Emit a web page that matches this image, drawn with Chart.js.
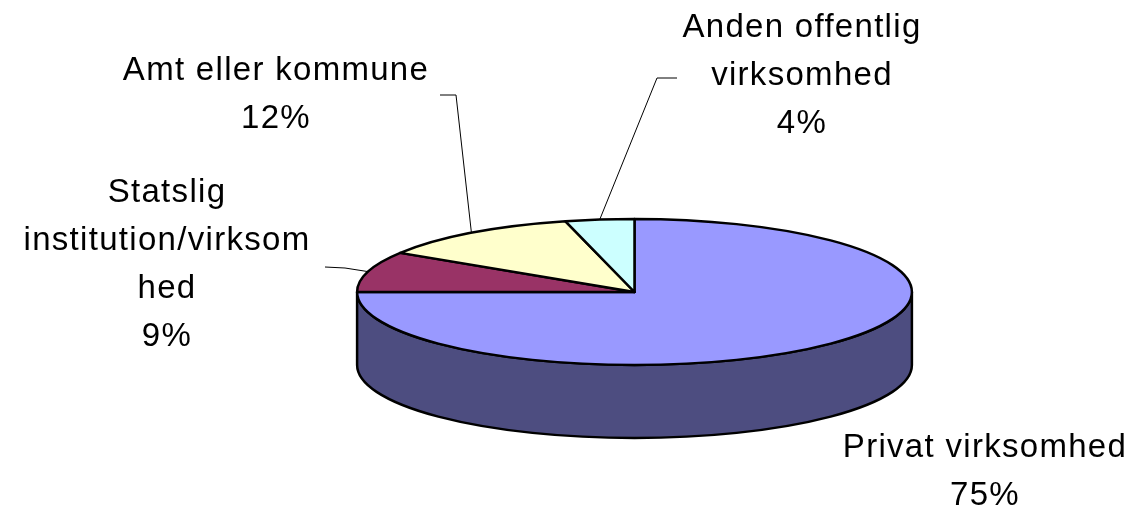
<!DOCTYPE html>
<html>
<head>
<meta charset="utf-8">
<script src="https://cdn.jsdelivr.net/npm/chart.js@4/dist/chart.umd.min.js"></script>
<style>
html, body { margin: 0; padding: 0; background: #fff; }
#wrap { width: 1134px; height: 507px; }
</style>
</head>
<body>
<div id="wrap"><canvas id="c"></canvas></div>
<script>
// data
var categories = ["Privat virksomhed", "Statslig institution/virksomhed", "Amt eller kommune", "Anden offentlig virksomhed"];
var shares = [75, 9, 12, 4];
// label text wrapped the way the original shows it
var labelLines = [
    ["Privat virksomhed"],
    ["Statslig", "institution/virksom", "hed"],
    ["Amt eller kommune"],
    ["Anden offentlig", "virksomhed"]
];

// styles / layout
var topColors = ["#9999FF", "#993366", "#FFFFCC", "#CCFFFF"];
var sideColors = ["#4D4D80", "#4D1A33", "#808066", "#668080"];
var ASPECT = 3.8;   // horizontal / vertical radius of the tilted pie
var DEPTH = 1.0;    // thickness as a fraction of the vertical radius
var labelPos = [[985, 457], [167, 202], [276, 80], [802, 37]];
var leaderBends = [null, [[345, 268], [325, 267]], [[456, 95], [440, 95]], [[657, 78], [677, 78]]];
var FONT = "33px 'Liberation Sans', Arial, sans-serif";
var LINE_H = 48;

var pie3d = {
    id: "pie3d",
    beforeDatasetsDraw: function(chart) {
        var ctx = chart.ctx;
        var arcs = chart.getDatasetMeta(0).data;
        var cx = arcs[0].x, cy = arcs[0].y;
        var ry = arcs[0].outerRadius, rx = ry * ASPECT, d = ry * DEPTH;
        ctx.save();
        ctx.lineWidth = 2.5;
        ctx.lineJoin = "round";
        ctx.strokeStyle = "#000";
        // side walls (front half only)
        for (var i = 0; i < arcs.length; i++) {
            var s = Math.max(arcs[i].startAngle, 0);
            var e = Math.min(arcs[i].endAngle, Math.PI);
            if (e <= s) continue;
            ctx.beginPath();
            ctx.ellipse(cx, cy, rx, ry, 0, s, e);
            ctx.lineTo(cx + rx * Math.cos(e), cy + d + ry * Math.sin(e));
            ctx.ellipse(cx, cy + d, rx, ry, 0, e, s, true);
            ctx.closePath();
            ctx.fillStyle = sideColors[i];
            ctx.fill();
            ctx.stroke();
        }
        // top faces
        for (var j = 0; j < arcs.length; j++) {
            ctx.beginPath();
            ctx.moveTo(cx, cy);
            ctx.ellipse(cx, cy, rx, ry, 0, arcs[j].startAngle, arcs[j].endAngle);
            ctx.closePath();
            ctx.fillStyle = topColors[j];
            ctx.fill();
            ctx.stroke();
        }
        // leader lines
        ctx.lineWidth = 1;
        for (var k = 0; k < arcs.length; k++) {
            if (!leaderBends[k]) continue;
            var m = (arcs[k].startAngle + arcs[k].endAngle) / 2;
            ctx.beginPath();
            ctx.moveTo(cx + rx * Math.cos(m), cy + ry * Math.sin(m));
            leaderBends[k].forEach(function(p) { ctx.lineTo(p[0], p[1]); });
            ctx.stroke();
        }
        // labels
        ctx.fillStyle = "#000";
        ctx.font = FONT;
        ctx.textAlign = "center";
        ctx.textBaseline = "alphabetic";
        ctx.letterSpacing = "1.3px";
        for (var n = 0; n < arcs.length; n++) {
            var lines = labelLines[n].concat([shares[n] + "%"]);
            for (var q = 0; q < lines.length; q++) {
                ctx.fillText(lines[q], labelPos[n][0], labelPos[n][1] + q * LINE_H);
            }
        }
        ctx.restore();
        return false;
    }
};

new Chart(document.getElementById("c"), {
    type: "pie",
    data: {
        labels: categories,
        datasets: [{ data: shares, backgroundColor: topColors, borderWidth: 0, hoverBorderWidth: 0, hoverOffset: 0 }]
    },
    options: {
        responsive: true,
        maintainAspectRatio: false,
        animation: false,
        events: [],
        layout: { padding: { top: 219, bottom: 142, left: 300, right: 165 } },
        plugins: { legend: { display: false }, tooltip: { enabled: false } }
    },
    plugins: [pie3d]
});
</script>
</body>
</html>
